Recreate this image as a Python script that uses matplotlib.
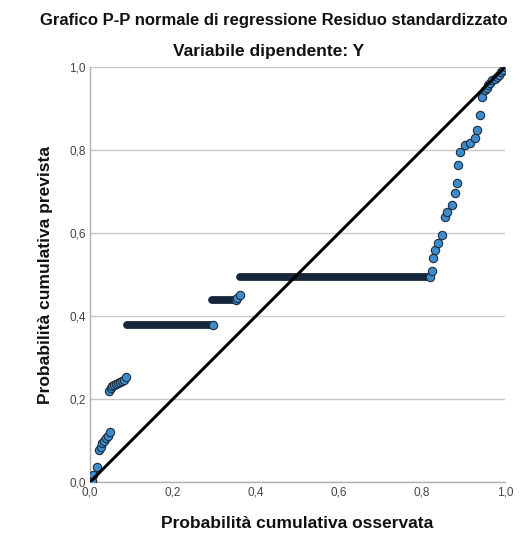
import numpy as np
import matplotlib.pyplot as plt

# scattered points (observed cum. prob, expected cum. prob)
obs_x = [0.005, 0.008, 0.017, 0.022, 0.026, 0.030, 0.034, 0.038, 0.043, 0.048,
         0.045, 0.050, 0.054, 0.058, 0.063, 0.068, 0.073, 0.078, 0.083, 0.087,
         0.355, 0.361,
         0.824, 0.827, 0.831, 0.839, 0.848, 0.855, 0.860, 0.872, 0.880, 0.884,
         0.887, 0.892, 0.904, 0.916, 0.928, 0.932, 0.940, 0.945, 0.952,
         0.956, 0.960, 0.965, 0.970, 0.975, 0.980, 0.985, 0.990, 0.995, 1.000]
pred_y = [0.003, 0.017, 0.036, 0.077, 0.085, 0.093, 0.100, 0.106, 0.112, 0.120,
          0.220, 0.226, 0.232, 0.235, 0.236, 0.238, 0.241, 0.244, 0.247, 0.253,
          0.443, 0.450,
          0.508, 0.540, 0.559, 0.576, 0.595, 0.639, 0.651, 0.667, 0.696, 0.720,
          0.764, 0.795, 0.812, 0.817, 0.829, 0.848, 0.884, 0.928, 0.945,
          0.950, 0.958, 0.962, 0.968, 0.972, 0.977, 0.982, 0.988, 0.994, 1.000]

# runs of tied expected values (horizontal bands of overlapping points)
band_y = [0.378, 0.439, 0.494]
band_x0 = [0.089, 0.294, 0.361]
band_x1 = [0.297, 0.352, 0.820]

ticks = [0.0, 0.2, 0.4, 0.6, 0.8, 1.0]
tick_labels = ['0,0', '0,2', '0,4', '0,6', '0,8', '1,0']

plt.rcParams['font.family'] = ['Liberation Sans', 'DejaVu Sans']

fig = plt.figure(figsize=(5.2, 5.41), dpi=100)
ax = fig.add_axes([0.173, 0.109, 0.798, 0.767])

fill = '#3d8ccc'
edge = '#1b2d40'

ax.grid(axis='y', color='#c8c8c8', linewidth=1)
ax.set_axisbelow(True)

# bands
for y, x0, x1 in zip(band_y, band_x0, band_x1):
    ax.plot([x0, x1], [y, y], color='#15263a', linewidth=5.6,
            solid_capstyle='round', zorder=2)
    ax.plot([x1], [y], 'o', markersize=6, markerfacecolor=fill,
            markeredgecolor=edge, markeredgewidth=0.8, zorder=3)

ax.plot(obs_x, pred_y, 'o', markersize=6, markerfacecolor=fill,
        markeredgecolor=edge, markeredgewidth=0.8, zorder=3)

# reference diagonal
ax.plot([0, 1], [0, 1], color='black', linewidth=2.2, zorder=4)

ax.set_xlim(0, 1)
ax.set_ylim(0, 1)
ax.set_xticks(ticks)
ax.set_xticklabels(tick_labels)
ax.set_yticks(ticks)
ax.set_yticklabels(tick_labels)
ax.tick_params(length=0, labelsize=8.5, labelcolor='#444444', pad=3)

for s in ['top', 'right']:
    ax.spines[s].set_visible(False)
for s in ['left', 'bottom']:
    ax.spines[s].set_color('#b0b0b0')
    ax.spines[s].set_linewidth(1)

ax.set_xlabel('Probabilità cumulativa osservata', fontsize=12.5, fontweight='bold',
              labelpad=13, color='#111111')
ax.set_ylabel('Probabilità cumulativa prevista', fontsize=12.5, fontweight='bold',
              labelpad=12, color='#111111')

fig.text(0.527, 0.962, 'Grafico P-P normale di regressione Residuo standardizzato',
         ha='center', va='center', fontsize=12, fontweight='bold', color='#111111')
fig.text(0.516, 0.905, 'Variabile dipendente: Y', ha='center', va='center',
         fontsize=12.5, fontweight='bold', color='#111111')

fig.savefig('out.png', dpi=100)
